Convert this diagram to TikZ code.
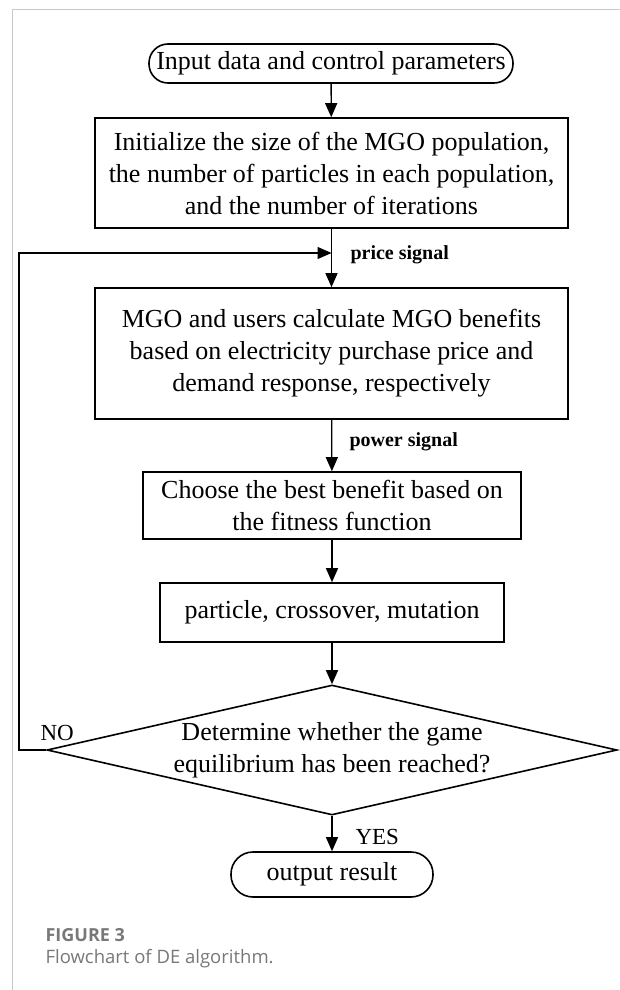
\documentclass[tikz,border=0pt]{standalone}
\usepackage{fontspec}
\setmainfont{Liberation Serif}
\newfontfamily\capfont{Open Sans}
\usepackage{tikz}
\usetikzlibrary{shapes.geometric,arrows.meta}

\definecolor{framegray}{RGB}{200,200,200}
\definecolor{capgray}{RGB}{120,120,120}

\tikzset{
  flowbox/.style={draw, line width=1.6pt, inner sep=0pt, align=center, font=\fontsize{26}{32}\selectfont},
  termbox/.style={flowbox, rounded corners=19pt},
  flowarrow/.style={line width=1.3pt, -{Triangle[length=14pt,width=12pt]}},
  siglabel/.style={anchor=west, font=\fontsize{20}{22}\selectfont\bfseries},
  anslabel/.style={anchor=west, font=\fontsize{23}{25}\selectfont}
}

\begin{document}
\begin{tikzpicture}[x=1pt,y=-1pt]
\useasboundingbox (0,0) rectangle (620,990);

\draw [-] [color=framegray, line width=1pt] (620,9.5) -- (12,9.5) -- (12,990);

    \node[termbox, minimum width=364pt, minimum height=39pt] (start) at (331,63.5) {Input data and control parameters};
    \node[flowbox, minimum width=473pt, minimum height=110pt] (init) at (331.5,173) {Initialize the size of the MGO population,\\ the number of particles in each population,\\ and the number of iterations};
    \node[flowbox, minimum width=473pt, minimum height=131pt] (mgo) at (331.5,353.5) {MGO and users calculate MGO benefits\\ based on electricity purchase price and\\ demand response, respectively};
    \node[flowbox, minimum width=378pt, minimum height=67pt] (choose) at (332,505.5) {Choose the best benefit based on\\ the fitness function};
    \node[flowbox, minimum width=344pt, minimum height=59pt] (particle) at (332,612.5) {particle, crossover, mutation};
    \node[flowbox, diamond, aspect=4.4, minimum width=570pt, minimum height=130pt] (decide) at (332,750) {Determine whether the game\\ equilibrium has been reached?};
    \node[termbox, rounded corners=22pt, minimum width=202pt, minimum height=45pt] (output) at (332,874.5) {output result};

\coordinate (join) at (331.5,253);

\draw [flowarrow] (start) -- (init);
\draw [line width=1.3pt] (init) -- (join);
\draw [flowarrow] (join) -- (mgo);
\draw [flowarrow] (mgo) -- (choose);
\draw [flowarrow] (choose) -- (particle);
\draw [flowarrow] (particle) -- (decide);
\draw [flowarrow] (decide) -- (output);
\draw [flowarrow] (decide.west) -- (19,750) |- (join);

    \node[siglabel] (price) at (347,255) {price signal};
    \node[siglabel] (power) at (346,442) {power signal};
    \node[anslabel] (no) at (37,733) {NO};
    \node[anslabel] (yes) at (352,837) {YES};

    \node[anchor=west, text=capgray, font=\capfont\fontsize{18}{20}\selectfont\bfseries] (fig) at (42,935) {FIGURE 3};
    \node[anchor=west, text=capgray, font=\capfont\fontsize{18.5}{20}\selectfont] (cap) at (42,959) {Flowchart of DE algorithm.};
\end{tikzpicture}
\end{document}
